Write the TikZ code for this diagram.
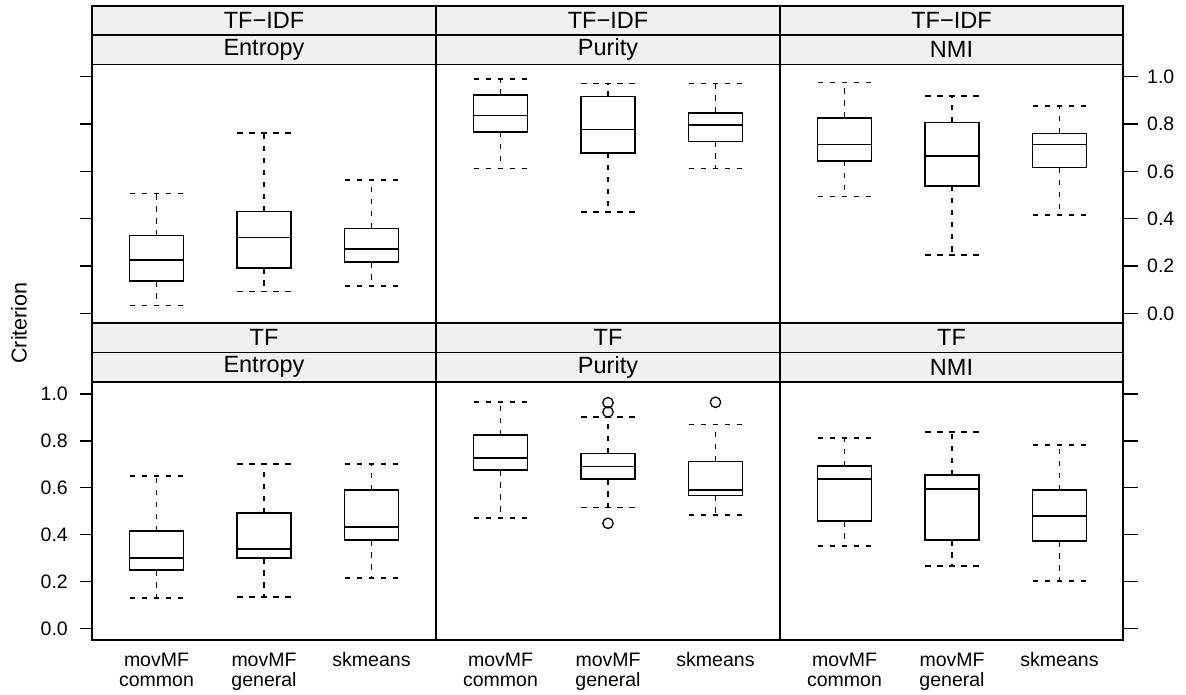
\documentclass[tikz,border=0pt]{standalone}
\usepackage{fontspec}
\setmainfont{Liberation Sans}
\definecolor{stripgray}{RGB}{240,240,240}
\tikzset{
  panelbox/.style={line width=1.6pt},
  stripbox/.style={fill=stripgray, draw=black, line width=1.6pt},
  boxln/.style={line width=1.4pt},
  whisk/.style={line width=1.4pt, dash pattern=on 5.5pt off 6.5pt},
  tickln/.style={line width=1.4pt},
  outl/.style={line width=1.3pt},
  striptext/.style={font=\fontsize{23.5}{27}\selectfont, inner sep=0pt},
  ticktext/.style={font=\fontsize{19.5}{22}\selectfont, inner sep=0pt},
  labtext/.style={font=\fontsize{19.5}{22}\selectfont, inner sep=0pt, anchor=base},
}
\newcommand\bxp[6]{%
  \draw[whisk] (#1-27,#2) -- (#1+27,#2);
  \draw[whisk] (#1,#3) -- (#1,#2);
  \draw[boxln] (#1-27,#3) rectangle (#1+27,#5);
  \draw[boxln] (#1-27,#4) -- (#1+27,#4);
  \draw[whisk] (#1,#5) -- (#1,#6);
  \draw[whisk] (#1-27,#6) -- (#1+27,#6);
}
\newcommand\outp[2]{\draw[outl] (#1,#2) circle (5.2);}
\begin{document}
\begin{tikzpicture}[x=1pt,y=-1pt]
\useasboundingbox (0,0) rectangle (1186,695);
% ---------- strips ----------
\foreach \L/\R/\a/\b in {92/436/TF−IDF/Entropy, 436/780/TF−IDF/Purity, 780/1123/TF−IDF/NMI}{
  \draw[stripbox] (\L,6) rectangle (\R,35);
  \draw[stripbox] (\L,35) rectangle (\R,64.5);
  \node[striptext] at ({(\L+\R)/2},20.5) {\a};
  \node[striptext] at ({(\L+\R)/2},49.8) {\b};
}
\foreach \L/\R/\a/\b in {92/436/TF/Entropy, 436/780/TF/Purity, 780/1123/TF/NMI}{
  \draw[stripbox] (\L,322.7) rectangle (\R,352.3);
  \draw[stripbox] (\L,352.3) rectangle (\R,381.7);
  \node[striptext] at ({(\L+\R)/2},337.5) {\a};
  \node[striptext] at ({(\L+\R)/2},367) {\b};
}
% ---------- panels ----------
\foreach \L/\R in {92/436, 436/780, 780/1123}{
  \draw[panelbox] (\L,64.5) rectangle (\R,322.7);
  \draw[panelbox] (\L,381.7) rectangle (\R,640);
}
% ---------- ticks ----------
\foreach \v [count=\k from 0] in {0.0,0.2,0.4,0.6,0.8,1.0}{
  \pgfmathsetmacro\yt{313.3-47.3*\k}
  \pgfmathsetmacro\yb{628.3-46.86*\k}
  \draw[tickln] (80,\yt) -- (92,\yt);
  \draw[tickln] (1123,\yt) -- (1138,\yt);
  \node[ticktext, anchor=west] at (1147,\yt) {\v};
  \draw[tickln] (80,\yb) -- (92,\yb);
  \draw[tickln] (1123,\yb) -- (1138,\yb);
  \node[ticktext, anchor=east] at (68,\yb) {\v};
}
% ---------- y label ----------
\node[font=\fontsize{21.5}{24}\selectfont, rotate=90, inner sep=0pt] (ylab) at (19,323) {Criterion};
% ---------- x labels ----------
\foreach \c in {0,344,688}{
  \node[labtext] at (156.5+\c,666) {movMF};
  \node[labtext] at (156.5+\c,686) {common};
  \node[labtext] at (264+\c,666) {movMF};
  \node[labtext] at (264+\c,686) {general};
  \node[labtext] at (371.5+\c,666) {skmeans};
}
% ---------- top row: TF-IDF ----------
\bxp{156.5}{193.7}{235.7}{260}{281}{305.7}
\bxp{264}{133}{211.3}{237.3}{268}{291.3}
\bxp{371.5}{180}{228.3}{249}{262}{286}
\bxp{500.5}{79}{95}{115.5}{132}{168.5}
\bxp{608}{83.6}{96.6}{129.6}{153}{212}
\bxp{715.5}{83.6}{113}{125}{141.4}{168.5}
\bxp{844.5}{82.7}{118}{144.3}{161}{196.7}
\bxp{952}{96}{122.3}{156}{186}{255}
\bxp{1059.5}{106}{133.3}{144.7}{167.7}{215}
% ---------- bottom row: TF ----------
\bxp{156.5}{476}{531}{558}{570}{598}
\bxp{264}{464}{513}{549}{558}{597}
\bxp{371.5}{464}{490}{527}{540}{578}
\bxp{500.5}{402}{435}{458}{470}{518}
\bxp{608}{417}{453.3}{466.3}{479}{507.3}
\outp{608}{402.7}\outp{608}{412}\outp{608}{523.3}
\bxp{715.5}{424.3}{461.3}{490}{495.3}{515}
\outp{715.5}{402.3}
\bxp{844.5}{438}{466}{479}{521}{546}
\bxp{952}{432}{475}{489}{540}{566}
\bxp{1059.5}{445}{490}{516}{541}{581}
\end{tikzpicture}
\end{document}
